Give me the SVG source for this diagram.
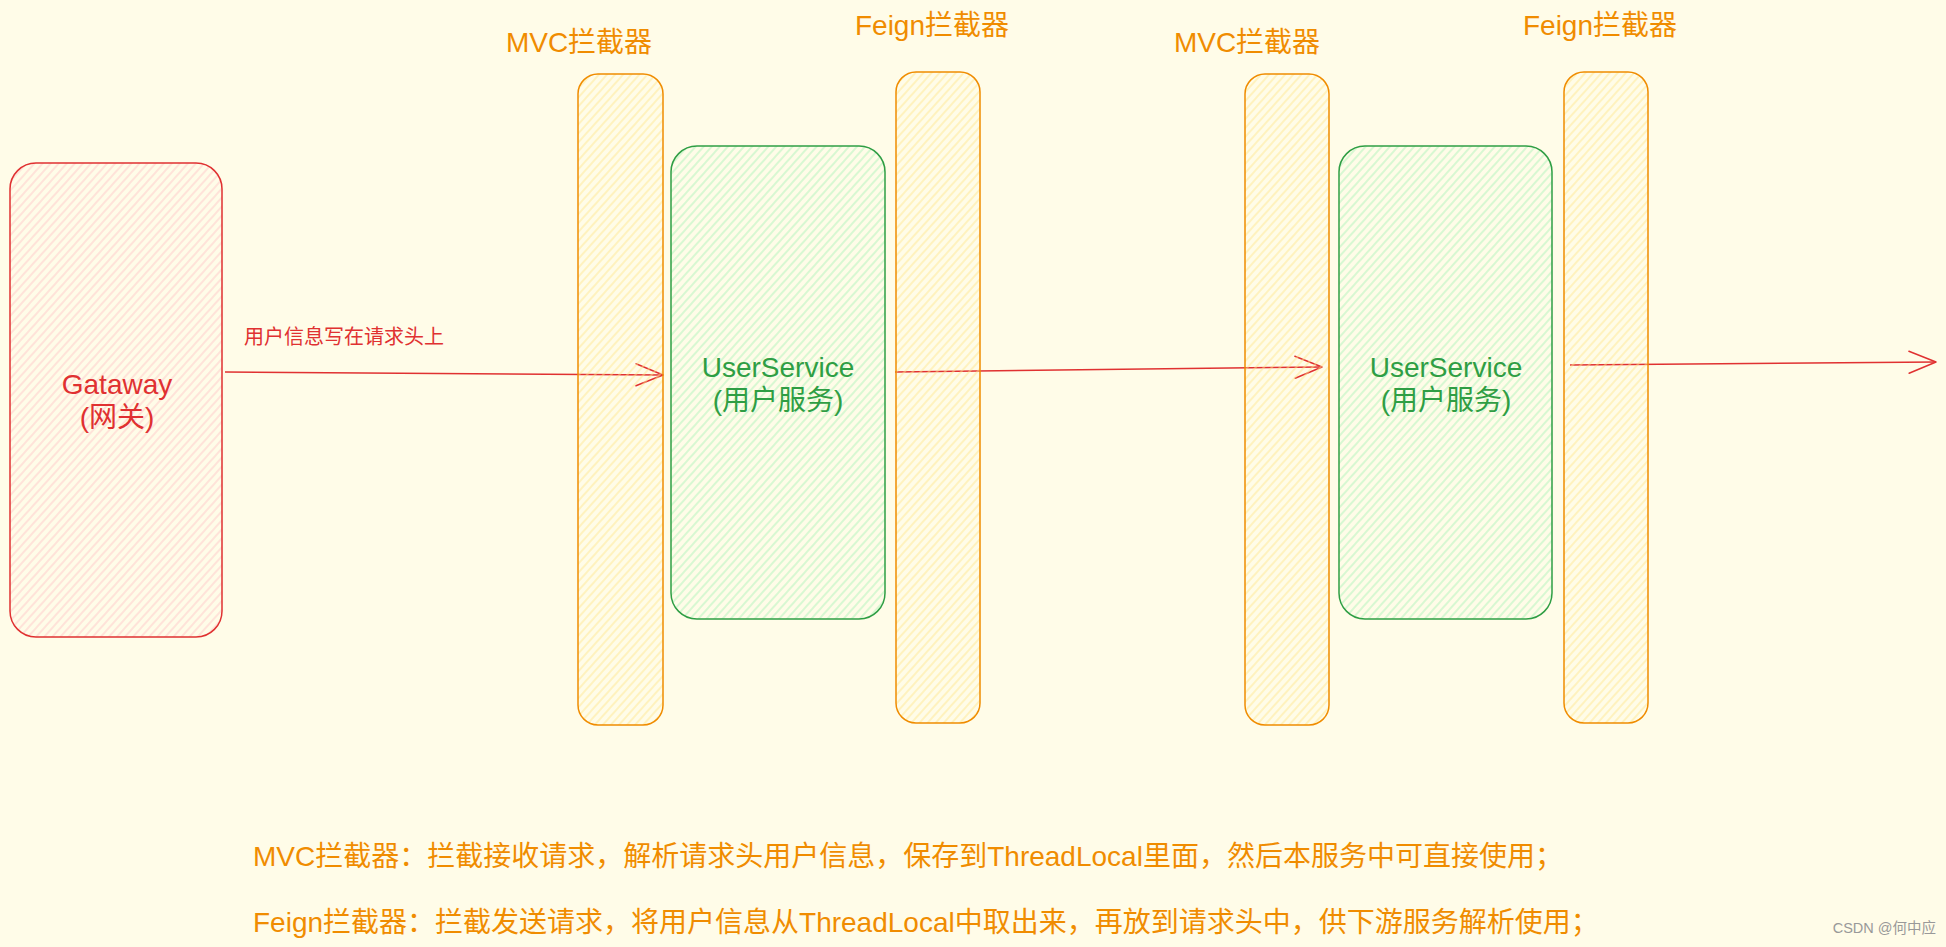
<svg xmlns="http://www.w3.org/2000/svg" width="1946" height="947" viewBox="0 0 1946 947">
<defs>
<pattern id="hRed" patternUnits="userSpaceOnUse" width="6" height="6" patternTransform="rotate(-48)"><line x1="0" y1="3" x2="6" y2="3" stroke="#ffc9c9" stroke-width="1.2" stroke-opacity="0.85"/></pattern>
<pattern id="hYel" patternUnits="userSpaceOnUse" width="6" height="6" patternTransform="rotate(-48)"><line x1="0" y1="3" x2="6" y2="3" stroke="#ffe58a" stroke-width="1.2" stroke-opacity="0.75"/></pattern>
<pattern id="hGrn" patternUnits="userSpaceOnUse" width="6" height="6" patternTransform="rotate(-48)"><line x1="0" y1="3" x2="6" y2="3" stroke="#b2f2bb" stroke-width="1.2" stroke-opacity="0.85"/></pattern>
<marker id="arr" markerUnits="userSpaceOnUse" markerWidth="40" markerHeight="30" refX="0" refY="0" viewBox="-30 -15 40 30" orient="auto" overflow="visible"><path d="M-27,-11 L0,0 L-27,11" fill="none" stroke="#e03131" stroke-width="1.5" stroke-linecap="round" stroke-linejoin="round"/></marker>
</defs>
<style>
.t{font-family:"Liberation Sans","Noto Sans CJK SC",sans-serif;}
.org{fill:#f08c00;}
.red{fill:#e03131;}
.grn{fill:#2f9e44;}
.gw{fill:url(#hRed);stroke:#e03131;stroke-width:1.5;}
.ic{fill:url(#hYel);stroke:#f08c00;stroke-width:1.5;}
.us{fill:url(#hGrn);stroke:#2f9e44;stroke-width:1.5;}
.conn{fill:none;stroke:#e03131;stroke-width:1.5;marker-end:url(#arr);}
</style>
<rect width="1946" height="947" fill="#fffce8"/>
<g id="connectors">
<path class="conn" d="M225,372 L663,375"/>
<path class="conn" d="M895,372 L1322,367"/>
<path class="conn" d="M1570,365 L1936,362"/>
<text class="t red" x="244" y="344" font-size="20">用户信息写在请求头上</text>
</g>
<g id="gateway">
<rect class="gw" x="10" y="163" width="212" height="474" rx="26"/>
<text class="t red" x="117" y="394" font-size="28" text-anchor="middle">Gataway</text>
<text class="t red" x="117" y="427" font-size="28" text-anchor="middle">(网关)</text>
</g>
<g id="mvc1">
<rect class="ic" x="578" y="74" width="85" height="651" rx="20"/>
<text class="t org" x="579" y="52" font-size="28" text-anchor="middle">MVC拦截器</text>
</g>
<g id="userservice1">
<rect class="us" x="671" y="146" width="214" height="473" rx="26"/>
<text class="t grn" x="778" y="377" font-size="28" text-anchor="middle">UserService</text>
<text class="t grn" x="778" y="410" font-size="28" text-anchor="middle">(用户服务)</text>
</g>
<g id="feign1">
<rect class="ic" x="896" y="72" width="84" height="651" rx="20"/>
<text class="t org" x="932" y="35" font-size="28" text-anchor="middle">Feign拦截器</text>
</g>
<g id="mvc2">
<rect class="ic" x="1245" y="74" width="84" height="651" rx="20"/>
<text class="t org" x="1247" y="52" font-size="28" text-anchor="middle">MVC拦截器</text>
</g>
<g id="userservice2">
<rect class="us" x="1339" y="146" width="213" height="473" rx="26"/>
<text class="t grn" x="1446" y="377" font-size="28" text-anchor="middle">UserService</text>
<text class="t grn" x="1446" y="410" font-size="28" text-anchor="middle">(用户服务)</text>
</g>
<g id="feign2">
<rect class="ic" x="1564" y="72" width="84" height="651" rx="20"/>
<text class="t org" x="1600" y="35" font-size="28" text-anchor="middle">Feign拦截器</text>
</g>
<g id="notes">
<text class="t org" x="253" y="866" font-size="28">MVC拦截器：拦截接收请求，解析请求头用户信息，保存到ThreadLocal里面，然后本服务中可直接使用；</text>
<text class="t org" x="253" y="932" font-size="28">Feign拦截器：拦截发送请求，将用户信息从ThreadLocal中取出来，再放到请求头中，供下游服务解析使用；</text>
</g>
<text class="t" x="1936" y="933" font-size="14.5" fill="#999999" text-anchor="end">CSDN @何中应</text>
</svg>
